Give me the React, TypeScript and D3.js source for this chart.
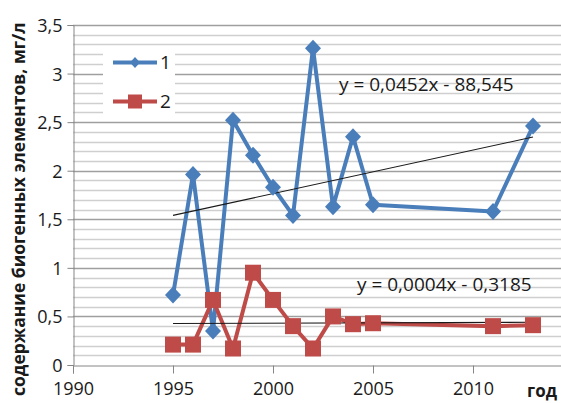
import React from "react";
import * as d3 from "d3";

const years = [1995, 1996, 1997, 1998, 1999, 2000, 2001, 2002, 2003, 2004, 2005, 2011, 2013];
const series1 = [0.72, 1.96, 0.35, 2.52, 2.16, 1.83, 1.54, 3.26, 1.63, 2.35, 1.65, 1.58, 2.46];
const series2 = [0.21, 0.21, 0.67, 0.17, 0.95, 0.67, 0.40, 0.17, 0.50, 0.42, 0.43, 0.40, 0.41];
const xTicks = [1990, 1995, 2000, 2005, 2010];
const yTicks = [0, 0.5, 1, 1.5, 2, 2.5, 3, 3.5];
const equations = ["y = 0,0452x - 88,545", "y = 0,0004x - 0,3185"];
const seriesNames = ["1", "2"];
const yTitle = "содержание биогенных элементов, мг/л";
const xTitle = "год";

const BLUE = "#4a7ebb";
const RED = "#be4b48";
const FONT = "'Open Sans', sans-serif";

const App = () => {
  const ref = React.useRef<SVGSVGElement>(null);

  React.useEffect(() => {
    document.body.style.margin = "0";
    const svg = d3.select(ref.current);
    svg.selectAll("*").remove();

    const x = d3.scaleLinear().domain([1990, 2015]).range([73, 573]);
    const y = d3.scaleLinear().domain([0, 3.5]).range([365, 25]);

    // grid, every 0.1, darker every 0.5
    const grid = d3.range(1, 36).map((i) => i / 10);
    svg.append("g")
      .selectAll("line")
      .data(grid)
      .enter()
      .append("line")
      .attr("x1", 73)
      .attr("x2", 573)
      .attr("y1", (d) => Math.round(y(d)) + 0.5)
      .attr("y2", (d) => Math.round(y(d)) + 0.5)
      .style("stroke", (d, i) => ((i + 1) % 5 === 0 ? "#9f9f9f" : "#cfcfcf"))
      .style("stroke-width", "1.3px");

    // axes
    const yAxis = svg.append("g").attr("transform", "translate(73.5,0)")
      .call(d3.axisLeft(y).tickValues(yTicks).tickSize(6).tickPadding(5)
        .tickFormat((d) => d3.format("~g")(d as number).replace(".", ",")));
    const xAxis = svg.append("g").attr("transform", "translate(0,365.5)")
      .call(d3.axisBottom(x).tickValues(xTicks).tickSize(8).tickPadding(9).tickFormat(d3.format("d")));
    [yAxis, xAxis].forEach((a) => {
      a.select(".domain").style("stroke", "#868686");
      a.selectAll(".tick line").style("stroke", "#868686");
      a.selectAll("text").style("font-family", FONT).style("font-size", "18px").style("fill", "#1a1a1a");
    });
    yAxis.selectAll("text").attr("dy", "0.36em");

    const drawSeries = (vals: number[], color: string, shape: string, eq: string, eqPos: number[]) => {
      // linear trendline (least squares), drawn over the data range
      const mx = d3.mean(years)!;
      const my = d3.mean(vals)!;
      let num = 0, den = 0;
      years.forEach((yr, i) => { num += (yr - mx) * (vals[i] - my); den += (yr - mx) * (yr - mx); });
      const b = num / den;
      const trend = (yr: number) => my + b * (yr - mx);
      const ends = d3.extent(years) as number[];

      svg.append("path")
        .datum(years.map((yr, i) => [yr, vals[i]] as [number, number]))
        .attr("d", d3.line().x((d) => x(d[0])).y((d) => y(d[1])))
        .style("fill", "none")
        .style("stroke", color)
        .style("stroke-width", "4px")
        .style("stroke-linejoin", "round");

      svg.append("line")
        .attr("x1", x(ends[0])).attr("x2", x(ends[1]))
        .attr("y1", y(trend(ends[0]))).attr("y2", y(trend(ends[1])))
        .style("stroke", "#1a1a1a")
        .style("stroke-width", "1.1px");

      svg.append("g")
        .selectAll("path")
        .data(years)
        .enter()
        .append("path")
        .attr("transform", (yr, i) => `translate(${x(yr)},${y(vals[i])})`)
        .attr("d", shape)
        .style("fill", color);

      svg.append("text")
        .attr("x", eqPos[0]).attr("y", eqPos[1])
        .text(eq)
        .style("font-family", FONT)
        .style("font-size", "19px")
        .style("fill", "#1a1a1a");
    };

    const diamond = "M0,-8.5L8,0L0,8.5L-8,0Z";
    const square = "M-8,-8H8V8H-8Z";
    drawSeries(series1, BLUE, diamond, equations[0], [339, 91]);
    drawSeries(series2, RED, square, equations[1], [357, 291]);

    // legend
    const legend = svg.append("g");
    legend.append("rect").attr("x", 103).attr("y", 48).attr("width", 72).attr("height", 70).style("fill", "white");
    const legendItems = [
      { name: seriesNames[0], color: BLUE, shape: "M0,-5.5L5,0L0,5.5L-5,0Z", cy: 62.5 },
      { name: seriesNames[1], color: RED, shape: "M-7,-7H7V7H-7Z", cy: 101.5 },
    ];
    legendItems.forEach((it) => {
      legend.append("line").attr("x1", 113).attr("x2", 157).attr("y1", it.cy).attr("y2", it.cy)
        .style("stroke", it.color).style("stroke-width", "4px");
      legend.append("path").attr("transform", `translate(135,${it.cy})`).attr("d", it.shape).style("fill", it.color);
      legend.append("text").attr("x", 160).attr("y", it.cy).attr("dy", "0.36em").text(it.name)
        .style("font-family", FONT).style("font-size", "19px").style("fill", "#1a1a1a");
    });

    // axis titles
    svg.append("text")
      .attr("transform", "translate(25,396) rotate(-90)")
      .text(yTitle)
      .style("font-family", FONT)
      .style("font-size", "17.5px")
      .style("font-weight", "bold")
      .style("fill", "#1a1a1a");
    svg.append("text")
      .attr("x", 527).attr("y", 397)
      .text(xTitle)
      .style("font-family", FONT)
      .style("font-size", "17px")
      .style("font-weight", "bold")
      .style("fill", "#1a1a1a");
  }, []);

  return (
    <svg ref={ref} width={561} height={403} style={{ display: "block", background: "white" }}></svg>
  );
};

export default App;
